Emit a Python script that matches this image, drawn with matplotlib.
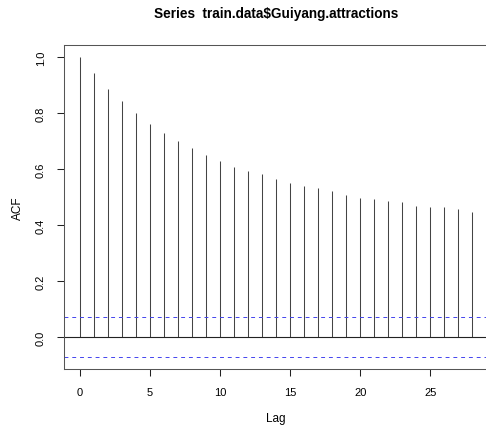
import numpy as np
import matplotlib
matplotlib.use('Agg')
import matplotlib.pyplot as plt

TITLE = r'Series  train.data\$Guiyang.attractions'
WIDTH = 486
HEIGHT = 427
DPI = 100

lags = list(range(29))
acf = [1.000, 0.943, 0.886, 0.843, 0.800, 0.760, 0.729, 0.700, 0.674, 0.650,
       0.630, 0.607, 0.594, 0.581, 0.563, 0.551, 0.541, 0.531, 0.520, 0.507,
       0.498, 0.492, 0.487, 0.481, 0.468, 0.464, 0.463, 0.457, 0.445]
conf = 0.0715
y_ticks = [0.0, 0.2, 0.4, 0.6, 0.8, 1.0]
x_ticks = [0, 5, 10, 15, 20, 25]


def main():
    plt.rcParams['font.family'] = ['Liberation Sans', 'DejaVu Sans']
    fig = plt.figure(figsize=(WIDTH / DPI, HEIGHT / DPI), dpi=DPI)
    ax = fig.add_axes([64 / WIDTH, 1 - 370 / HEIGHT,
                       (488 - 64) / WIDTH, (370 - 46) / HEIGHT])

    ax.vlines(lags, 0, acf, color='#444444', lw=0.75)
    ax.axhline(0, color='#222222', lw=0.8)
    ax.axhline(conf, color='#4444ee', lw=0.7, ls=(0, (4, 4)))
    ax.axhline(-conf, color='#4444ee', lw=0.7, ls=(0, (4, 4)))

    # R style 4% axis extension
    lo, hi = min(-conf, min(acf)), max(conf, max(acf))
    pad = (hi - lo) * 0.04
    ax.set_ylim(lo - pad, hi + pad)
    xpad = (max(lags) - min(lags)) * 0.04
    ax.set_xlim(min(lags) - xpad, max(lags) + xpad)

    ax.set_yticks(y_ticks)
    ax.set_yticklabels(['%.1f' % v for v in y_ticks], rotation=90, va='center')
    ax.set_xticks(x_ticks)
    ax.tick_params(direction='out', length=5, width=0.75, labelsize=8,
                   pad=8, colors='#222222', labelcolor='black')
    for s in ax.spines.values():
        s.set_linewidth(0.75)
        s.set_color('#555555')

    ax.set_xlabel('Lag', fontsize=8.5)
    ax.xaxis.set_label_coords((276 - 64) / 424, (370 - 413) / 324)
    ax.set_ylabel('ACF', fontsize=8.5)
    ax.yaxis.set_label_coords((24 - 64) / 424, 0.5)
    ax.set_title(TITLE, fontsize=9.8, fontweight='bold', pad=20)

    fig.savefig('out.png', dpi=DPI)


if __name__ == '__main__':
    main()
